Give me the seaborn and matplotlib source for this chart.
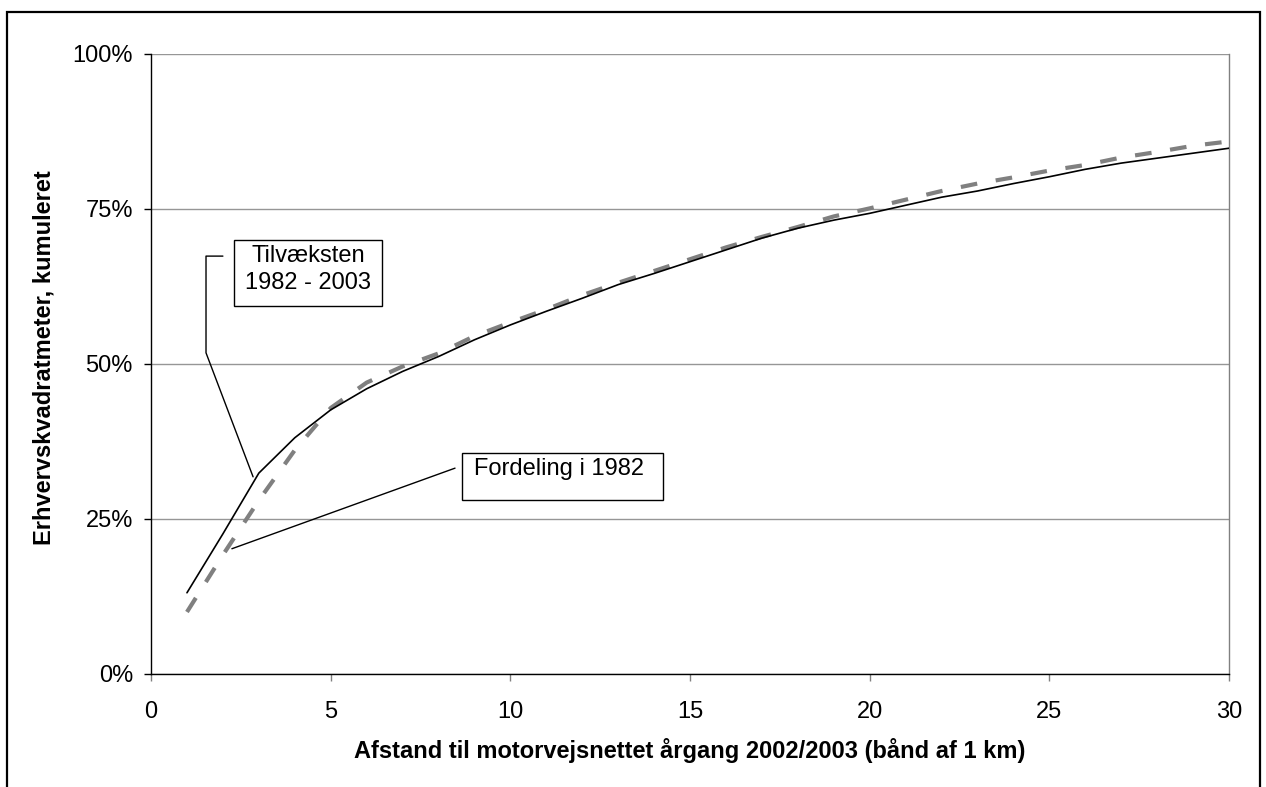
import numpy as np
import pandas as pd
import seaborn as sns
import matplotlib.pyplot as plt
from matplotlib.patches import Rectangle
from matplotlib.ticker import FuncFormatter

# ==============================
#  DATA
# ==============================
afstand = list(range(1, 31))
tilvaeksten = [13.1, 22.6, 32.4, 38.1, 42.6, 46.0, 48.8, 51.2, 53.9, 56.3,
               58.5, 60.6, 62.8, 64.6, 66.5, 68.4, 70.3, 71.9, 73.2, 74.3,
               75.6, 76.9, 77.9, 79.1, 80.2, 81.4, 82.4, 83.2, 84.0, 84.8]
fordeling_1982 = [10.0, 19.2, 28.0, 36.1, 42.9, 47.0, 49.6, 51.7, 54.5, 56.7,
                  58.8, 61.1, 63.1, 65.0, 66.9, 68.8, 70.5, 72.1, 73.8, 75.1,
                  76.5, 77.9, 79.1, 80.1, 81.2, 82.1, 83.3, 84.2, 85.2, 85.9]
x_ticks = [0, 5, 10, 15, 20, 25, 30]
y_ticks = [0, 25, 50, 75, 100]

df = pd.DataFrame({"afstand": afstand,
                   "Tilvæksten 1982 - 2003": tilvaeksten,
                   "Fordeling i 1982": fordeling_1982})

# ==============================
#  STYLE
# ==============================
sns.set_style("white")
plt.rcParams['font.family'] = ['Liberation Sans', 'DejaVu Sans']
plt.rcParams['text.color'] = "black"
plt.rcParams['axes.labelcolor'] = "black"
plt.rcParams['xtick.color'] = "black"
plt.rcParams['ytick.color'] = "black"

fig = plt.figure(figsize=(12.66, 7.87), dpi=100)
ax = fig.add_axes([0.1193, 0.1436, 0.8515, 0.7878])

# outer frame (bottom edge cut off, as in the original)
fig.patches.append(Rectangle((7 / 1266, -0.05), (1260 - 7) / 1266, 1 - 12 / 787 + 0.05,
                             transform=fig.transFigure, fill=False,
                             edgecolor="black", linewidth=1.6))

# ==============================
#  LINES
# ==============================
sns.lineplot(data=df, x="afstand", y="Fordeling i 1982", ax=ax,
             color="#808080", linewidth=3.0, legend=False, zorder=3)
ax.lines[-1].set_dashes((4, 4.5))
sns.lineplot(data=df, x="afstand", y="Tilvæksten 1982 - 2003", ax=ax,
             color="black", linewidth=1.2, legend=False, zorder=4)

# ==============================
#  AXES
# ==============================
ax.set_xlim(0, 30)
ax.set_ylim(0, 100)
ax.set_xticks(x_ticks)
ax.set_yticks(y_ticks)
ax.yaxis.set_major_formatter(FuncFormatter(lambda v, _: f"{v:.0f}%"))
ax.grid(axis="y", color="#969696", linewidth=1.0)
ax.set_axisbelow(True)

for side in ["left", "bottom"]:
    ax.spines[side].set_color("black")
    ax.spines[side].set_linewidth(1.0)
ax.spines["right"].set_color("#808080")
ax.spines["right"].set_linewidth(1.0)
ax.spines["top"].set_visible(False)

ax.tick_params(axis="y", direction="out", length=5, width=1, colors="black",
               labelsize=17, pad=8, left=True)
ax.tick_params(axis="x", direction="out", length=5, width=1, color="#808080",
               labelcolor="black", labelsize=17, pad=14.5, bottom=True)

ax.set_xlabel("Afstand til motorvejsnettet årgang 2002/2003 (bånd af 1 km)",
              fontsize=17, fontweight="bold", labelpad=11)
ax.set_ylabel("Erhvervskvadratmeter, kumuleret",
              fontsize=17, fontweight="bold")
ax.yaxis.set_label_coords(-0.089, 0.51)

# ==============================
#  CALLOUTS
# ==============================
ax.add_patch(Rectangle((2.31, 59.4), 6.43 - 2.31, 70.0 - 59.4, fill=True,
                       facecolor="white", edgecolor="black", linewidth=1.0, zorder=5))
ax.text(4.37, 67.4, "Tilvæksten", ha="center", va="center", fontsize=17, zorder=6)
ax.text(4.37, 63.0, "1982 - 2003", ha="center", va="center", fontsize=17, zorder=6)
ax.plot([2.0, 1.53, 1.53, 2.84], [67.4, 67.4, 51.8, 31.8],
        color="black", linewidth=1.0, zorder=5)

ax.add_patch(Rectangle((8.66, 28.1), 14.25 - 8.66, 35.6 - 28.1, fill=True,
                       facecolor="white", edgecolor="black", linewidth=1.0, zorder=5))
ax.text(9.0, 33.1, "Fordeling i 1982", ha="left", va="center", fontsize=17, zorder=6)
ax.plot([2.25, 8.46], [20.2, 33.2], color="black", linewidth=1.0, zorder=5)

plt.savefig("out.png", dpi=100)
